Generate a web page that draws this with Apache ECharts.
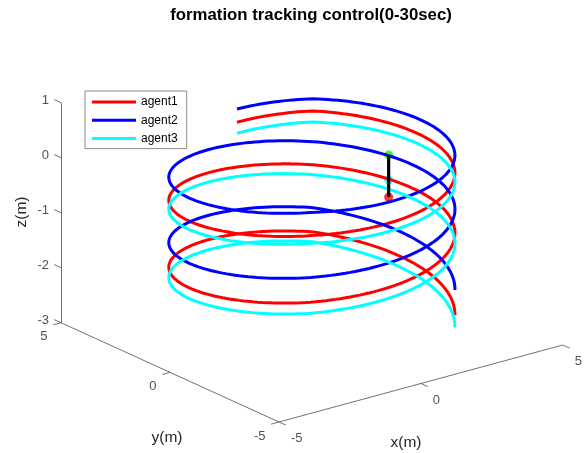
<!DOCTYPE html>
<html>
<head>
<meta charset="utf-8">
<script src="https://cdn.jsdelivr.net/npm/echarts@6/dist/echarts.min.js"></script>
<style>
html,body{margin:0;padding:0;background:#fff;}
#chart{width:587px;height:453px;}
</style>
</head>
<body>
<div id="chart"></div>
<script>
// ---- trajectory data ----
// Each agent follows a helix of radius helixRadius; the z value is given at
// knot angles (degrees): start point, every half turn (back / front), end point.
const helixRadius = 4;
const knotAngles = [84, 52, -128, -308, -488, -668, -758];
const agentNames = ['agent1', 'agent2', 'agent3'];
const agent1Z = [0.07, 0.14, -0.30, -0.84, -1.51, -2.06, -2.66];
const agent2Z = [0.31, 0.36, 0.12, -0.42, -1.06, -1.62, -2.20];
const agent3Z = [-0.13, -0.06, -0.44, -1.02, -1.71, -2.24, -2.88];

// formation snapshot (markers joined by a black line), same x/y, different z
const snapAngle = 20;
const snapZ = [-1.285, -0.976, -0.52];

// axis ticks
const xTicks = [-5, 0, 5];
const yTicks = [-5, 0, 5];
const zTicks = [-3, -2, -1, 0, 1];

// ---- 3D -> screen projection (fixed view) ----
const XR = [-5, 5], YR = [-5, 5], ZR = [-3, 1];
const ORIGIN = [279, 422];          // screen position of (xmin, ymin, zmin)
const UX = [28.37, -7.7];           // one x unit
const UY = [-21.8, -9.93];          // one y unit
const UZ = [0, -55];                // one z unit
function proj(x, y, z) {
  const dx = x - XR[0], dy = y - YR[0], dz = z - ZR[0];
  return [ORIGIN[0] + dx * UX[0] + dy * UY[0] + dz * UZ[0],
          ORIGIN[1] + dx * UX[1] + dy * UY[1] + dz * UZ[1]];
}

function helixPoints(zs) {
  const pts = [];
  for (let k = 0; k < knotAngles.length - 1; k++) {
    const a0 = knotAngles[k], a1 = knotAngles[k + 1];
    const n = Math.max(2, Math.round(Math.abs(a1 - a0) / 2));
    for (let i = (k === 0 ? 0 : 1); i <= n; i++) {
      const t = i / n;
      const a = (a0 + (a1 - a0) * t) * Math.PI / 180;
      const z = zs[k] + (zs[k + 1] - zs[k]) * t;
      pts.push(proj(helixRadius * Math.cos(a), helixRadius * Math.sin(a), z));
    }
  }
  return pts;
}

const agentZ = [agent1Z, agent2Z, agent3Z];
const agentColors = ['#ff0000', '#0000ff', '#00ffff'];
const snapColors = ['#ff0000', '#00ffff', '#00ff00'];

// axis lines and tick marks
const axisSegs = [];
axisSegs.push({coords: [proj(XR[0], YR[1], ZR[0]), proj(XR[0], YR[1], ZR[1])]});
axisSegs.push({coords: [proj(XR[0], YR[1], ZR[0]), proj(XR[0], YR[0], ZR[0])]});
axisSegs.push({coords: [proj(XR[0], YR[0], ZR[0]), proj(XR[1], YR[0], ZR[0])]});
function tickSeg(p, dir, len) {
  return {coords: [p, [p[0] + dir[0] * len, p[1] + dir[1] * len]]};
}
const zTickDir = [-0.91, -0.414], yTickDir = [-0.965, 0.262], xTickDir = [0.91, 0.414];
zTicks.forEach(v => axisSegs.push(tickSeg(proj(XR[0], YR[1], v), zTickDir, 7.5)));
yTicks.forEach(v => axisSegs.push(tickSeg(proj(XR[0], v, ZR[0]), yTickDir, 8)));
xTicks.forEach(v => axisSegs.push(tickSeg(proj(v, YR[0], ZR[0]), xTickDir, 7.5)));

const tickFont = {fontFamily: 'Liberation Sans, Arial, sans-serif', fontSize: 13, color: '#262626'};
function tickLabels(vals, toPoint, dx, dy, align) {
  return vals.map(v => {
    const p = toPoint(v);
    return {
      value: [p[0] + dx, p[1] + dy],
      label: Object.assign({show: true, position: 'inside', formatter: String(v),
                            align: align, verticalAlign: 'middle'}, tickFont)
    };
  });
}
const labelData = []
  .concat(tickLabels(zTicks, v => proj(XR[0], YR[1], v), -12, -2.7, 'right'))
  .concat(tickLabels(yTicks, v => proj(XR[0], v, ZR[0]), -13.5, 14, 'right'))
  .concat(tickLabels(xTicks, v => proj(v, YR[0], ZR[0]), 12, 16.8, 'left'));

const sa = snapAngle * Math.PI / 180;
const snapPts = snapZ.map(z => proj(helixRadius * Math.cos(sa), helixRadius * Math.sin(sa), z));

const series = [];
agentNames.forEach((name, i) => {
  series.push({
    name: name, type: 'line', data: helixPoints(agentZ[i]),
    symbol: 'none', smooth: false, silent: true,
    lineStyle: {color: agentColors[i], width: 3}, itemStyle: {color: agentColors[i]}
  });
});
series.push({
  type: 'scatter', silent: true, symbol: 'circle', symbolSize: 9,
  data: snapPts.map((p, i) => ({value: p, itemStyle: {color: snapColors[i]}}))
});
series.push({
  type: 'line', data: snapPts, symbol: 'none', silent: true,
  lineStyle: {color: '#000', width: 3.2}
});
series.push({
  type: 'lines', coordinateSystem: 'cartesian2d', silent: true,
  lineStyle: {color: '#4d4d4d', width: 0.8, opacity: 1}, data: axisSegs
});
series.push({
  type: 'scatter', silent: true, symbolSize: 0, data: labelData
});

const chart = echarts.init(document.getElementById('chart'), null, {renderer: 'canvas'});
chart.setOption({
  animation: false,
  backgroundColor: '#fff',
  grid: {left: 0, right: 0, top: 0, bottom: 0},
  xAxis: {type: 'value', min: 0, max: 587, show: false},
  yAxis: {type: 'value', min: 0, max: 453, inverse: true, show: false},
  legend: {
    data: agentNames, orient: 'vertical', left: 85, top: 91,
    icon: 'rect', itemWidth: 44, itemHeight: 3, itemGap: 4.3,
    padding: [4, 9, 3, 7],
    backgroundColor: '#fff', borderColor: '#8c8c8c', borderWidth: 1, borderRadius: 0,
    selectedMode: false,
    textStyle: {fontFamily: 'Liberation Sans, Arial, sans-serif', fontSize: 12, color: '#000', lineHeight: 14}
  },
  graphic: [
    {type: 'text', x: 311, y: 15, style: {text: 'formation tracking control(0-30sec)',
      font: 'bold 16.8px "Liberation Sans", Arial, sans-serif', fill: '#000',
      textAlign: 'center', textVerticalAlign: 'middle'}},
    {type: 'text', x: 406, y: 443, style: {text: 'x(m)',
      font: '15.5px "Liberation Sans", Arial, sans-serif', fill: '#262626',
      textAlign: 'center', textVerticalAlign: 'middle'}},
    {type: 'text', x: 167, y: 438, style: {text: 'y(m)',
      font: '15.5px "Liberation Sans", Arial, sans-serif', fill: '#262626',
      textAlign: 'center', textVerticalAlign: 'middle'}},
    {type: 'text', x: 22, y: 212, rotation: Math.PI / 2, style: {text: 'z(m)',
      font: '15.5px "Liberation Sans", Arial, sans-serif', fill: '#262626',
      textAlign: 'center', textVerticalAlign: 'middle'}}
  ],
  series: series
});
</script>
</body>
</html>
